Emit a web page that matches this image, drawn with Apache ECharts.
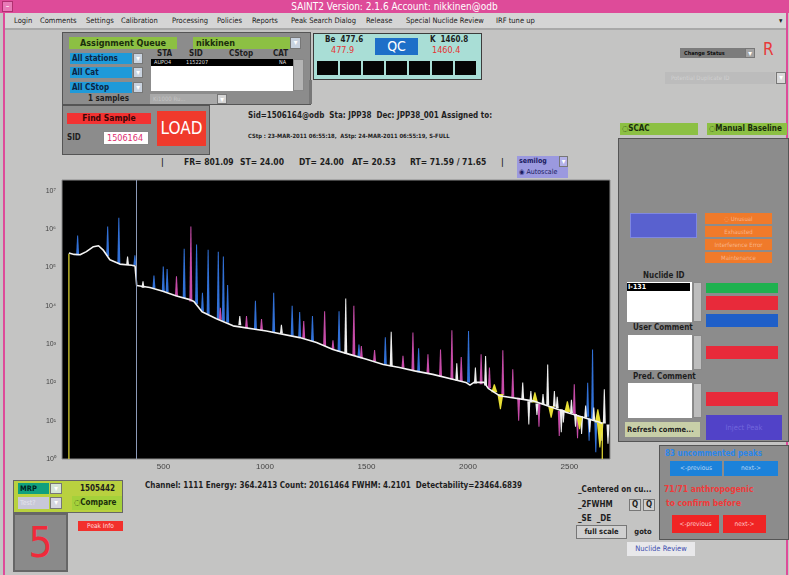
<!DOCTYPE html>
<html>
<head>
<meta charset="utf-8">
<title>SAINT2</title>
<script src="https://cdn.jsdelivr.net/npm/echarts@6/dist/echarts.min.js"></script>
<style>
  body{margin:0;width:789px;height:575px;overflow:hidden;background:#c4c4c3;position:relative;
       font-family:"DejaVu Sans Condensed","Liberation Sans Narrow","Liberation Sans",sans-serif;color:#1e1e1e}
  .a{position:absolute;white-space:nowrap;box-sizing:border-box}
  .b{font-weight:bold}
  .c{text-align:center}
  .panel{background:#8c8c8c;border:1px solid #555}
  .arr{background:#c9d3e0;color:#fff;font-size:8px;line-height:10px;text-align:center;border:1px solid #777}
  .menu span{position:absolute;top:3px;font-size:7.5px;color:#222}
  #chart{position:absolute;left:0;top:170px;width:620px;height:305px}
</style>
</head>
<body>

<!-- window frame -->
<div class="a" style="left:0;top:0;width:789px;height:13px;background:#de4b99"></div>
<div class="a c" style="left:0;top:0;width:789px;height:13px;color:#fff;font-size:10px;line-height:13px">SAINT2 Version: 2.1.6 Account: nikkinen@odb</div>
<div class="a c" style="left:2px;top:1px;width:11px;height:11px;background:#e97ab8;border:1px solid #b03070;color:#fff;font-size:8px;line-height:9px">–</div>
<div class="a" style="left:3px;top:13px;width:2px;height:562px;background:#de4b99"></div>
<div class="a" style="left:786px;top:13px;width:2px;height:562px;background:#de4b99"></div>

<div class="a menu" style="left:5px;top:13px;width:781px;height:17px;background:#d5d5d5;border-bottom:2px solid #a9a9a9">
  <span style="left:9px">Login</span>
  <span style="left:35px">Comments</span>
  <span style="left:81px">Settings</span>
  <span style="left:116px">Calibration</span>
  <span style="left:167px">Processing</span>
  <span style="left:212px">Policies</span>
  <span style="left:247px">Reports</span>
  <span style="left:286px">Peak Search Dialog</span>
  <span style="left:361px">Release</span>
  <span style="left:401px">Special Nuclide Review</span>
  <span style="left:491px">IRF tune up</span>
  <span style="left:774px">▾</span>
</div>

<!-- assignment queue -->
<div class="a panel" style="left:62px;top:32px;width:249px;height:73px"></div>
<div class="a b c" style="left:69px;top:37px;width:108px;height:12px;background:#8cc043;font-size:9px;line-height:12px;color:#1a2e0c">Assignment Queue</div>
<div class="a b" style="left:193px;top:37px;width:97px;height:12px;background:#8cc043;font-size:9px;line-height:12px;padding-left:3px;color:#1a2e0c">nikkinen</div>
<div class="a arr" style="left:290px;top:37px;width:11px;height:12px">▾</div>
<div class="a b" style="left:70px;top:53px;width:62px;height:11px;background:#1f9ad9;font-size:8px;line-height:11px;padding-left:2px;color:#0b2444">All stations</div>
<div class="a arr" style="left:133px;top:53px;width:10px;height:11px">▾</div>
<div class="a b" style="left:70px;top:67px;width:62px;height:11px;background:#1f9ad9;font-size:8px;line-height:11px;padding-left:2px;color:#0b2444">All Cat</div>
<div class="a arr" style="left:133px;top:67px;width:10px;height:11px">▾</div>
<div class="a b" style="left:70px;top:82px;width:62px;height:11px;background:#1f9ad9;font-size:8px;line-height:11px;padding-left:2px;color:#0b2444">All CStop</div>
<div class="a arr" style="left:133px;top:82px;width:10px;height:11px">▾</div>
<div class="a b" style="left:88px;top:94px;font-size:8px">1 samples</div>
<div class="a b" style="left:157px;top:49px;font-size:8px">STA</div>
<div class="a b" style="left:189px;top:49px;font-size:8px">SID</div>
<div class="a b" style="left:229px;top:49px;font-size:8px">CStop</div>
<div class="a b" style="left:273px;top:49px;font-size:8px">CAT</div>
<div class="a" style="left:151px;top:59px;width:142px;height:32px;background:#fff"></div>
<div class="a" style="left:151px;top:59px;width:142px;height:7px;background:#000;color:#ddd;font-size:5.5px;line-height:7px">
  <span style="position:absolute;left:3px">AUPO4</span><span style="position:absolute;left:35px">1152207</span><span style="position:absolute;left:128px">NA</span></div>
<div class="a" style="left:293px;top:59px;width:11px;height:32px;background:#b4b4b4;border:1px solid #888"></div>
<div class="a" style="left:150px;top:94px;width:67px;height:10px;background:#a9a9a9;color:#c4c4c4;font-size:6px;line-height:10px;padding-left:3px">Ki1000 Ru...</div>
<div class="a arr" style="left:217px;top:94px;width:10px;height:10px;background:#d5d5d5">▾</div>

<!-- find sample -->
<div class="a panel" style="left:62px;top:105px;width:148px;height:50px"></div>
<div class="a b c" style="left:67px;top:113px;width:84px;height:11px;background:#f23232;font-size:8.5px;line-height:11px;color:#3a0606">Find Sample</div>
<div class="a c" style="left:157px;top:111px;width:49px;height:35px;background:#f03a2c;color:#fff;font-size:17px;line-height:35px">LOAD</div>
<div class="a b" style="left:67px;top:133px;font-size:8px">SID</div>
<div class="a" style="left:103px;top:131px;width:46px;height:14px;background:#fff;border:1px solid #888;color:#e03070;font-size:9px;line-height:12px;padding-left:3px">1506164</div>

<div class="a b" style="left:248px;top:111px;font-size:8px">Sid=1506164@odb &nbsp;Sta: JPP38 &nbsp;Dec: JPP38_001 Assigned to:</div>
<div class="a b" style="left:248px;top:133px;font-size:5.8px">CStp : 23-MAR-2011 06:55:18, &nbsp;AStp: 24-MAR-2011 06:55:19, S-FULL</div>

<!-- QC -->
<div class="a" style="left:313px;top:33px;width:169px;height:47px;background:#a9ded6;border:1px solid #3c3c3c"></div>
<div class="a b" style="left:325px;top:35px;font-size:8px">Be &nbsp;477.6</div>
<div class="a" style="left:331px;top:45px;font-size:9px;color:#e63232">477.9</div>
<div class="a c" style="left:375px;top:38px;width:43px;height:17px;background:#1e6fc8;color:#fff;font-size:14px;line-height:17px">QC</div>
<div class="a b" style="left:430px;top:35px;font-size:8px">K &nbsp;1460.8</div>
<div class="a" style="left:432px;top:45px;font-size:9px;color:#e63232">1460.4</div>
<div id="qcbox"></div>
<div class="a" style="left:309px;top:80px;width:3px;height:24px;background:#777"></div>

<!-- top right -->
<div class="a b" style="left:680px;top:48px;width:65px;height:10px;background:#7c7c7c;font-size:5.5px;line-height:10px;padding-left:4px;color:#111">Change Status</div>
<div class="a arr" style="left:745px;top:48px;width:10px;height:10px;background:#a3a3a3">▾</div>
<div class="a" style="left:763px;top:39px;font-size:17px;color:#e83a3a">R</div>
<div class="a" style="left:665px;top:72px;width:110px;height:12px;background:#bcbcbc;color:#d0d0d0;font-size:6px;line-height:12px;padding-left:6px">Potential Duplicate ID</div>
<div class="a arr" style="left:776px;top:72px;width:10px;height:12px;background:#d9d9d9">▾</div>

<!-- status line -->
<div class="a b" style="left:161px;top:157px;font-size:8.5px">|</div>
<div class="a b" style="left:184px;top:157px;font-size:8.5px">FR= 801.09</div>
<div class="a b" style="left:240px;top:157px;font-size:8.5px">ST= 24.00</div>
<div class="a b" style="left:299px;top:157px;font-size:8.5px">DT= 24.00</div>
<div class="a b" style="left:352px;top:157px;font-size:8.5px">AT= 20.53</div>
<div class="a b" style="left:410px;top:157px;font-size:8.5px">RT= 71.59 / 71.65</div>
<div class="a b" style="left:501px;top:157px;font-size:8.5px">|</div>
<div class="a b" style="left:517px;top:156px;width:51px;height:11px;background:#9b99df;font-size:7px;line-height:11px;padding-left:2px;color:#1a1a60">semilog</div>
<div class="a arr" style="left:559px;top:156px;width:9px;height:11px;background:#b3b1e8">▾</div>
<div class="a" style="left:517px;top:167px;width:51px;height:11px;background:#9b99df;font-size:7px;line-height:11px;padding-left:2px;color:#1a1a60">◉ Autoscale</div>

<!-- right panel -->
<div class="a b" style="left:620px;top:123px;width:78px;height:12px;background:#8cc043;font-size:8px;line-height:12px;padding-left:2px;color:#1a2e0c">◌SCAC</div>
<div class="a b" style="left:707px;top:123px;width:80px;height:12px;background:#8cc043;font-size:8px;line-height:12px;padding-left:2px;color:#1a2e0c">◌Manual Baseline</div>
<div class="a panel" style="left:618px;top:138px;width:171px;height:304px"></div>
<div class="a" style="left:630px;top:213px;width:67px;height:25px;background:#5961cf;border:1px solid #8088e0"></div>
<div class="a c" style="left:705px;top:213px;width:67px;height:11px;background:#f07a2a;font-size:6px;line-height:11px;color:#f9b489">◌ Unusual</div>
<div class="a c" style="left:705px;top:226px;width:67px;height:11px;background:#f07a2a;font-size:6px;line-height:11px;color:#f9b489">Exhausted</div>
<div class="a c" style="left:705px;top:239px;width:67px;height:11px;background:#f07a2a;font-size:6px;line-height:11px;color:#f9b489">Interference Error</div>
<div class="a c" style="left:705px;top:252px;width:67px;height:11px;background:#f07a2a;font-size:6px;line-height:11px;color:#f9b489">Maintenance</div>
<div class="a b" style="left:643px;top:271px;font-size:8px">Nuclide ID</div>
<div class="a" style="left:627px;top:282px;width:65px;height:40px;background:#fff"></div>
<div class="a b" style="left:627px;top:283px;width:63px;height:8px;background:#000;color:#fff;font-size:7px;line-height:8px;padding-left:1px">I-131</div>
<div class="a" style="left:693px;top:282px;width:9px;height:40px;background:#bdbdbd;border:1px solid #888"></div>
<div class="a" style="left:706px;top:283px;width:72px;height:10px;background:#1fb14f"></div>
<div class="a" style="left:706px;top:296px;width:72px;height:14px;background:#e82a3a"></div>
<div class="a" style="left:706px;top:314px;width:72px;height:13px;background:#1f5fc8"></div>
<div class="a b" style="left:633px;top:323px;font-size:8px">User Comment</div>
<div class="a" style="left:628px;top:335px;width:64px;height:35px;background:#fff"></div>
<div class="a" style="left:693px;top:335px;width:9px;height:35px;background:#bdbdbd;border:1px solid #888"></div>
<div class="a" style="left:706px;top:346px;width:72px;height:13px;background:#e82a3a"></div>
<div class="a b" style="left:633px;top:372px;font-size:8px">Pred. Comment</div>
<div class="a" style="left:628px;top:383px;width:64px;height:35px;background:#fff"></div>
<div class="a" style="left:693px;top:383px;width:9px;height:35px;background:#bdbdbd;border:1px solid #888"></div>
<div class="a" style="left:706px;top:392px;width:72px;height:14px;background:#e82a3a"></div>
<div class="a b" style="left:625px;top:422px;width:75px;height:15px;background:#c8cfa8;font-size:7.5px;line-height:15px;padding-left:2px">Refresh comme...</div>
<div class="a c" style="left:706px;top:415px;width:76px;height:25px;background:#5142c8;color:#7166dc;font-size:7.5px;line-height:25px">Inject Peak</div>

<!-- bottom right -->
<div class="a panel" style="left:659px;top:445px;width:130px;height:95px"></div>
<div class="a b" style="left:665px;top:449px;font-size:8px;color:#2a86ea">83 uncommented peaks</div>
<div class="a c" style="left:670px;top:461px;width:52px;height:15px;background:#1c82da;color:#bcd8f4;font-size:6.5px;line-height:15px">&lt;-previous</div>
<div class="a c" style="left:724px;top:461px;width:54px;height:15px;background:#1c82da;color:#bcd8f4;font-size:6.5px;line-height:15px">next-&gt;</div>
<div class="a b" style="left:664px;top:484px;font-size:8.5px;color:#f03a3a">71/71 anthropogenic</div>
<div class="a b" style="left:666px;top:498px;font-size:8.5px;color:#f03a3a">to confirm before</div>
<div class="a c" style="left:672px;top:515px;width:47px;height:18px;background:#f02424;color:#fcc;font-size:6.5px;line-height:18px">&lt;-previous</div>
<div class="a c" style="left:723px;top:515px;width:43px;height:18px;background:#f02424;color:#fcc;font-size:6.5px;line-height:18px">next-&gt;</div>

<!-- bottom left -->
<div class="a" style="left:13px;top:480px;width:110px;height:33px;background:#b9d13f;border:1px solid #666"></div>
<div class="a b" style="left:18px;top:483px;width:31px;height:11px;background:#10a07e;font-size:7.5px;line-height:11px;padding-left:2px;color:#022">MRP</div>
<div class="a arr" style="left:50px;top:483px;width:12px;height:11px;background:#d5e5d5">▾</div>
<div class="a b" style="left:80px;top:484px;font-size:8px">1505442</div>
<div class="a" style="left:18px;top:497px;width:31px;height:12px;background:#c8c8d8;color:#e4e4ee;font-size:7px;line-height:12px;padding-left:2px">Test?</div>
<div class="a arr" style="left:50px;top:497px;width:12px;height:12px;background:#d5d5e0">▾</div>
<div class="a b" style="left:72px;top:496px;width:50px;height:14px;background:#a4d13a;font-size:8px;line-height:14px;padding-left:2px;color:#1a2e0c">◌Compare</div>
<div class="a" style="left:13px;top:513px;width:55px;height:59px;background:#8a8a8a;border:2px solid #666"></div>
<div class="a c" style="left:13px;top:513px;width:55px;height:59px;font-size:42px;line-height:59px;color:#f02a3a">5</div>
<div class="a c" style="left:78px;top:521px;width:45px;height:10px;background:#f2302c;color:#fdd;font-size:6.5px;line-height:10px">Peak Info</div>
<div class="a b" style="left:145px;top:481px;font-size:8px">Channel: 1111 Energy: 364.2413 Count: 20161464 FWHM: 4.2101 &nbsp;Detectability=23464.6839</div>

<div class="a b" style="left:578px;top:485px;font-size:8px">_Centered on cu...</div>
<div class="a b" style="left:578px;top:500px;font-size:8px">_2FWHM</div>
<div class="a b c" style="left:629px;top:499px;width:12px;height:12px;background:#cfcfcf;border:1px solid #777;font-size:8px;line-height:10px">Q</div>
<div class="a b c" style="left:643px;top:499px;width:12px;height:12px;background:#cfcfcf;border:1px solid #777;font-size:8px;line-height:10px">Q</div>
<div class="a b" style="left:578px;top:514px;font-size:8px">_SE &nbsp;_DE</div>
<div class="a b c" style="left:576px;top:525px;width:51px;height:14px;background:#d0d0d0;border:1px solid #777;font-size:7.5px;line-height:12px">full scale</div>
<div class="a b c" style="left:629px;top:525px;width:28px;height:14px;font-size:7.5px;line-height:14px">goto</div>
<div class="a c" style="left:627px;top:542px;width:68px;height:14px;background:#e8e8ea;color:#4050b0;font-size:7.5px;line-height:14px">Nuclide Review</div>

<div id="chart"></div>

<script>
// continuum (white trace), energy in keV / counts
const contE = [34, 60, 89, 120, 155, 180, 202, 236, 285, 343,
               360, 368, 433, 497, 564, 630, 650, 690, 761, 843,
               1007, 1171, 1254, 1335, 1417, 1500, 1583, 1663, 1737, 1827,
               1940, 1990, 2010, 2030, 2080, 2100, 2155, 2320, 2484, 2648, 2662];
const contY = [2.4e5, 2.2e5, 2.15e5, 2.6e5, 3.5e5, 3.7e5, 2.9e5, 1.6e5, 1.23e5, 1.15e5,
               1.1e5, 3.4e4, 3.0e4, 2.4e4, 1.8e4, 1.45e4, 1.3e4, 7.0e3, 4.6e3, 3.0e3,
               2.2e3, 1.48e3, 1.1e3, 720, 540, 400, 295, 245, 200, 162,
               115, 100, 85, 100, 100, 70, 45, 33, 16.6, 9.1, 8.5];

// spectrum edges (yellow)
const edgeLowE = [34, 34], edgeLowY = [1, 2.3e5];
const edgeHighE = [2662, 2662], edgeHighY = [8.5, 1];

const cursorE = 364.24;

// peaks: [energy, base counts, top counts]
const blueP = [
  [77, 2.1e5, 6.9e5], [225, 2.0e5, 1.17e6], [280, 1.23e5, 2.0e6], [359, 1.15e5, 2.1e5],
  [453, 2.9e4, 6.2e4], [499, 2.4e4, 1.07e5], [518, 2.3e4, 9.1e4], [602, 1.6e4, 3.1e5],
  [663, 1.1e4, 4.0e5], [692, 7.1e3, 2.2e4], [720, 6.0e3, 2.9e5], [770, 4.5e3, 2.6e5],
  [795, 4.0e3, 1.95e5], [816, 3.6e3, 3.5e4], [953, 2.4e3, 1.35e4], [1043, 2.0e3, 2.2e4],
  [1134, 1.66e3, 1.0e4], [1171, 1.5e3, 6.9e3], [1234, 1.2e3, 5.4e3], [1365, 630, 7.2e3],
  [1463, 450, 980], [1593, 290, 1.5e3], [1757, 185, 780], [2003, 100, 2.2e3],
  [2590, 12.6, 98], [2614, 11, 720], [2597, 12, 3], [2630, 10, 1.5]
];
const pinkP = [
  [564, 1.8e4, 5.9e4], [635, 1.3e4, 1.17e6], [780, 4.3e3, 8.9e3], [909, 2.6e3, 5.4e3],
  [983, 2.3e3, 4.5e3], [1191, 1.4e3, 4.0e3], [1294, 890, 7.2e3], [1335, 720, 1.26e3],
  [1438, 500, 1.0e4], [1475, 430, 890], [1540, 355, 700], [1680, 240, 500],
  [1729, 200, 2.0e3], [1803, 166, 540], [1865, 141, 720], [1921, 120, 2.3e3],
  [1967, 107, 460], [2065, 89, 540], [2106, 71, 245], [2172, 47, 690],
  [2221, 40, 220], [2524, 15, 89], [2250, 40, 10], [2350, 28, 7],
  [2450, 18, 4], [2540, 14, 3.5]
];
const whiteP = [
  [323, 1.17e5, 1.95e5], [399, 2.95e4, 4.4e4], [876, 3.1e3, 5.4e3], [1081, 1.9e3, 3.2e3],
  [1398, 560, 1.55e4], [1622, 263, 2.1e3], [1945, 112, 316], [2037, 93, 245],
  [2087, 83, 490], [2270, 35, 100], [2393, 25, 295], [2426, 23, 60],
  [2672, 8.5, 66], [2300, 32, 8], [2460, 20, 5], [2560, 13, 4.5], [2690, 8, 2.5],
  [2310, 30, 60], [2340, 28, 14], [2370, 27, 50], [2440, 21, 42], [2470, 19, 9],
  [2510, 16, 35], [2530, 15, 7], [2580, 12, 25], [2600, 11, 5], [2620, 10, 22], [2660, 9, 3]
];
const yellowP = [
  [2130, 55, 90], [2160, 50, 20], [2330, 30, 55], [2410, 24, 12],
  [2490, 17, 32], [2550, 13, 6], [2640, 9, 20], [2650, 9, 2]
];

const xTicks = [500, 1000, 1500, 2000, 2500];
const sup = ['⁰', '¹', '²', '³', '⁴', '⁵', '⁶', '⁷', '⁸'];

// black QC squares
var qc = document.getElementById('qcbox');
for (var i = 0; i < 7; i++) {
  var d = document.createElement('div');
  d.className = 'a';
  d.style.cssText = 'left:' + (317 + i * 23) + 'px;top:61px;width:21px;height:14px;background:#050505';
  qc.appendChild(d);
}

function spike(half, color) {
  return function (params, api) {
    var lo = api.coord([api.value(0), api.value(1)]);
    var hi = api.coord([api.value(0), api.value(2)]);
    return {
      type: 'polygon',
      shape: {points: [[lo[0] - half, lo[1]], [hi[0] - 0.5, hi[1]], [hi[0] + 0.5, hi[1]], [lo[0] + half, lo[1]]]},
      style: {fill: color}
    };
  };
}
function peakSeries(data, half, color) {
  return {type: 'custom', data: data, renderItem: spike(half, color), clip: true, silent: true, z: 2};
}
function pairs(xs, ys) {
  return xs.map(function (x, i) { return [x, ys[i]]; });
}

var myChart = echarts.init(document.getElementById('chart'));
var option = {
  animation: false,
  grid: {left: 62, top: 10, width: 548, height: 279, show: true, backgroundColor: '#000', borderColor: '#8a8a8a', borderWidth: 1},
  xAxis: {
    type: 'value', min: 0, max: 2700, interval: 500,
    axisLine: {show: false}, axisTick: {show: false}, splitLine: {show: false},
    axisLabel: {fontSize: 8, color: '#444', margin: 4, showMinLabel: false, showMaxLabel: false,
                formatter: function (v) { return xTicks.indexOf(v) >= 0 ? v : ''; }}
  },
  yAxis: {
    type: 'log', logBase: 10, min: 1, max: 1.93e7,
    axisLine: {show: false}, axisTick: {show: false}, splitLine: {show: false},
    axisLabel: {fontSize: 7, color: '#444', margin: 6, showMaxLabel: false,
                formatter: function (v) { var e = Math.round(Math.log10(v)); return '10' + sup[e]; }}
  },
  series: [
    peakSeries(blueP, 1.5, '#3170d6'),
    peakSeries(pinkP, 1.5, '#c64ba8'),
    peakSeries(whiteP, 1.5, '#eeeeee'),
    peakSeries(yellowP, 3, '#e8df35'),
    {type: 'line', data: pairs(edgeLowE, edgeLowY), showSymbol: false, lineStyle: {color: '#e8df35', width: 1.2}, z: 3, silent: true},
    {type: 'line', data: pairs(edgeHighE, edgeHighY), showSymbol: false, lineStyle: {color: '#e8df35', width: 1.2}, z: 3, silent: true},
    {
      type: 'line', data: pairs(contE, contY), showSymbol: false, z: 4, silent: true,
      lineStyle: {color: '#f4f4f4', width: 1.6},
      markLine: {symbol: 'none', silent: true, label: {show: false},
                 lineStyle: {color: '#8c9ab8', width: 1, type: 'solid'},
                 data: [{xAxis: cursorE}]}
    }
  ]
};
myChart.setOption(option);
</script>
</body>
</html>
